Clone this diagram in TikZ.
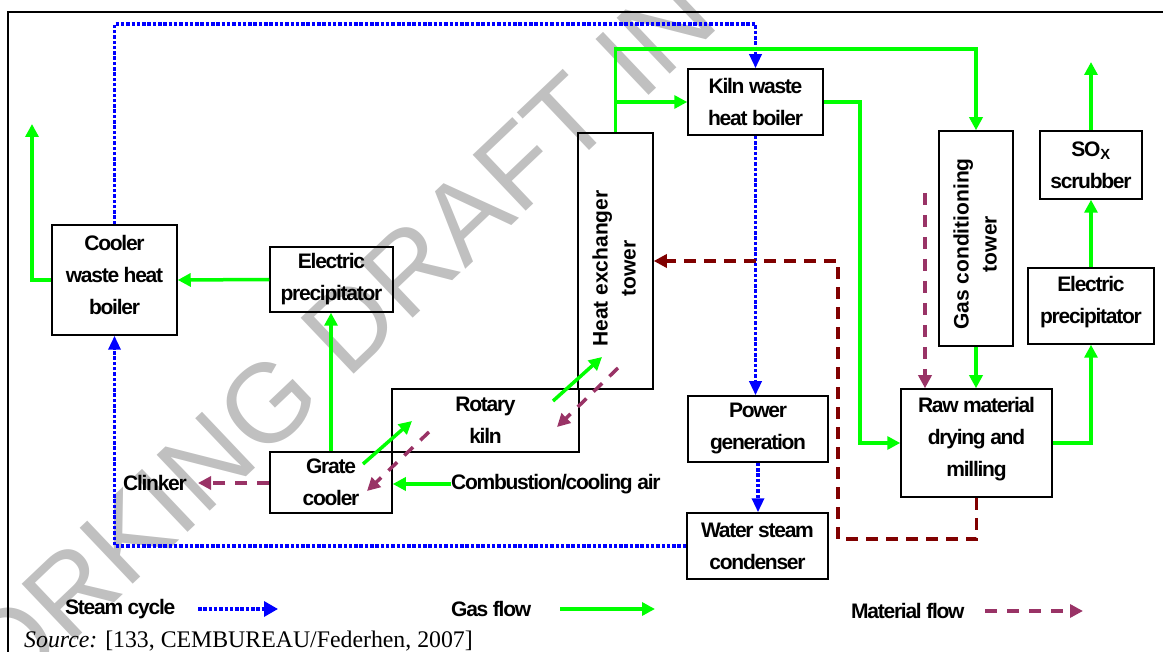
\documentclass[tikz,border=0pt]{standalone}
\usepackage{fontspec}
\setmainfont{Liberation Sans}
\newfontfamily\lblfont[LetterSpace=-6]{Liberation Sans}
\newfontfamily\rotfont{Liberation Sans}
\newfontfamily\srcfont{Liberation Serif}
\usetikzlibrary{arrows.meta}
\definecolor{gasg}{RGB}{0,255,0}
\definecolor{stb}{RGB}{0,0,255}
\definecolor{matp}{RGB}{153,51,102}
\definecolor{matr}{RGB}{128,0,0}
\definecolor{wmk}{RGB}{192,192,192}
\begin{document}
\begin{tikzpicture}[x=1pt,y=-1pt,
  lbl/.style={font=\lblfont\bfseries\fontsize{21}{32}\selectfont, align=center, inner sep=0pt},
  rlbl/.style={font=\rotfont\bfseries\fontsize{21}{28}\selectfont, align=center, inner sep=0pt, rotate=90},
  box/.style={lbl, draw=black, line width=1.5pt},
  steam/.style={draw=stb, line width=3.3pt, dash pattern=on 3.5pt off 1.8pt, -{Triangle[length=14pt,width=12pt]}},
  gas/.style={draw=gasg, line width=3.5pt, -{Triangle[length=13pt,width=13pt]}},
  matf/.style={draw=matp, line width=3.5pt, dash pattern=on 12pt off 10pt, -{Triangle[length=13pt,width=13pt]}},
  matd/.style={draw=matr, line width=3.5pt, dash pattern=on 12pt off 8pt, -{Triangle[length=13pt,width=13pt]}},
  frame/.style={draw=black, line width=1.5pt}
]
\useasboundingbox (0,0) rectangle (1163,652);
% watermark
\begin{scope}
\clip (0,0) rectangle (1163,652);
\node[rotate=43.5, anchor=base west, inner sep=0pt, text=wmk,
      font=\fontsize{112}{112}\selectfont] (wm) at (-72,779) {WORKING DRAFT IN PROGRESS};
\end{scope}
% frame
\coordinate (f0) at (8,12);
\coordinate (f1) at (1163,12);
\coordinate (f2) at (8,652);
\draw[frame] (f2) -- (f0) -- (f1);
% boxes
\node[box, minimum width=125pt, minimum height=110pt] (cwhb) at (114.5,280) {};
\node[lbl] (cwhbt) at (114.5,275) {Cooler\\waste heat\\boiler};
\node[box, minimum width=123pt, minimum height=65pt] (epl) at (331.5,279.5) {Electric\\precipitator};
\node[box, minimum width=75pt, minimum height=256pt] (hxt) at (615.5,261) {};
\node[rlbl] (hxtt) at (614,268.5) {Heat exchanger\\tower};
\node[box, minimum width=187pt, minimum height=63pt] (kiln) at (485.5,420.5) {Rotary\\kiln};
\node[box, minimum width=122pt, minimum height=61pt] (grate) at (331,482.5) {Grate\\cooler};
\node[box, minimum width=135pt, minimum height=66pt] (kwhb) at (755.5,102) {Kiln waste\\heat boiler};
\node[box, minimum width=74pt, minimum height=215pt] (gct) at (976,238.5) {};
\node[rlbl] (gctt) at (975,244) {Gas conditioning\\tower};
\node[box, minimum width=102pt, minimum height=68pt] (sox) at (1091,165) {SO\textsubscript{X}\\scrubber};
\node[box, minimum width=126pt, minimum height=76pt] (epr) at (1091,306) {};
\node[lbl] (eprt) at (1091,302) {Electric\\precipitator};
\node[box, minimum width=151pt, minimum height=108pt] (raw) at (976.5,443) {};
\node[lbl] (rawt) at (976.5,439) {Raw material\\drying and\\milling};
\node[box, minimum width=140pt, minimum height=66pt] (pow) at (758,429) {Power\\generation};
\node[box, minimum width=141pt, minimum height=66pt] (wsc) at (757.5,546) {Water steam\\condenser};
% free labels
\node[lbl, anchor=east] (clk) at (187,483) {Clinker};
\node[lbl, anchor=west] (air) at (451,484) {Combustion/cooling air};
% steam cycle
\coordinate (st) at (400,24);
\draw[steam] (cwhb.north) |- (st) -| (kwhb.north);
\draw[steam] (kwhb.south) -- (kwhb.south |- pow.north);
\draw[steam] (pow.south) -- (pow.south |- wsc.north);
\draw[steam] (wsc.west) -| (cwhb.south);
% gas flow
\coordinate (g1) at (800,49);
\draw[gas] (hxt.north) |- (g1) -| (gct.north);
\draw[gas] (hxt.north |- kwhb.west) -- (kwhb.west);
\coordinate (g2) at (860,300);
\draw[gas] (kwhb.east) -| (g2) |- (raw.west);
\draw[gas] (gct.south) -- (gct.south |- raw.north);
\draw[gas] (raw.east) -| (epr.south);
\draw[gas] (epr.north) -- (sox.south);
\coordinate (soxout) at (1091,62);
\draw[gas] (sox.north) -- (soxout);
\draw[gas] (epl.west) -- (cwhb.east);
\coordinate (cwout) at (32,124);
\draw[gas] (cwhb.west) -| (cwout);
\draw[gas] (grate.north) -- (grate.north |- epl.south);
\coordinate (ga1) at (363,464);
\coordinate (ga2) at (412,421);
\draw[gas] (ga1) -- (ga2);
\coordinate (gb1) at (553,401);
\coordinate (gb2) at (602,357);
\draw[gas] (gb1) -- (gb2);
\draw[gas] (air.west) -- (grate.east |- air.west);
% material flow
\coordinate (ma1) at (618,368);
\coordinate (ma2) at (557,427);
\draw[matf] (ma1) -- (ma2);
\coordinate (mb1) at (429,432);
\coordinate (mb2) at (367,491);
\draw[matf] (mb1) -- (mb2);
\coordinate (clkend) at (198,483);
\draw[matf] (grate.west |- clkend) -- (clkend);
\coordinate (ms) at (925,193);
\draw[matf] (ms) -- (ms |- raw.north);
\coordinate (r1) at (838,539);
\draw[matd] (raw.south) |- (r1) |- (hxt.east);
% legend
\node[lbl, anchor=west] (lg1) at (65,609) {Steam cycle};
\coordinate (l1a) at (198,609);
\coordinate (l1b) at (278,609);
\draw[steam, -{Triangle[length=14pt,width=15pt]}] (l1a) -- (l1b);
\node[lbl, anchor=west] (lg2) at (451,609) {Gas flow};
\coordinate (l2a) at (560,609);
\coordinate (l2b) at (655,609);
\draw[gas] (l2a) -- (l2b);
\node[lbl, anchor=west] (lg3) at (851,611) {Material flow};
\coordinate (l3a) at (985,611);
\coordinate (l3b) at (1083,611);
\draw[matf] (l3a) -- (l3b);
% source
\node[anchor=base west, inner sep=0pt, font=\srcfont\fontsize{23.8}{24}\selectfont] (src) at (24,647) {\textit{Source:} [133, CEMBUREAU/Federhen, 2007]};
\end{tikzpicture}
\end{document}
